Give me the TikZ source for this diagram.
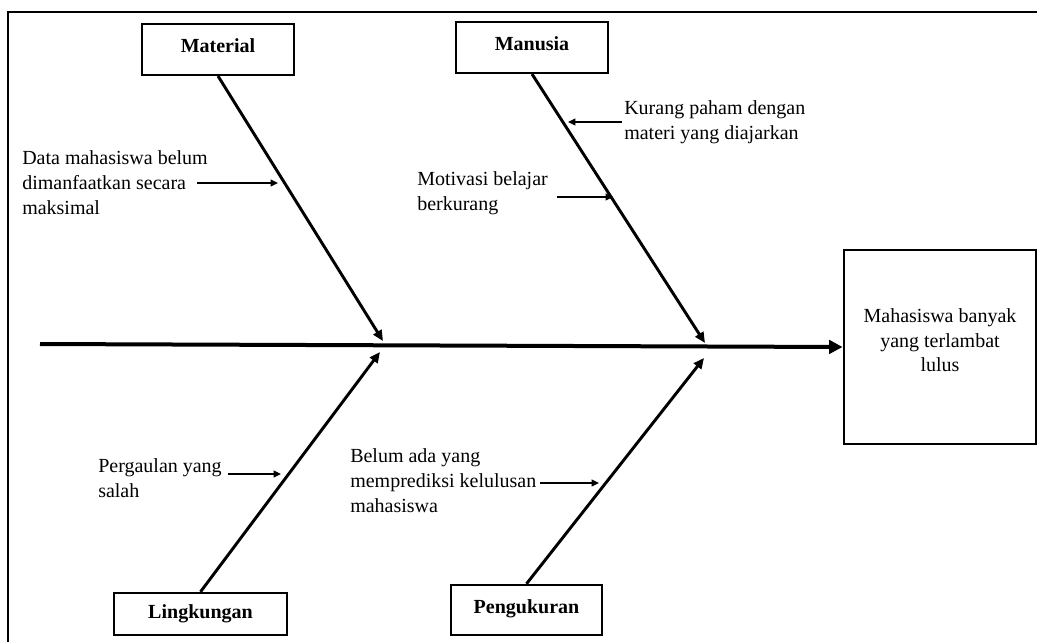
\documentclass[tikz,border=0pt]{standalone}
\usepackage{fontspec}
\setmainfont{Liberation Serif}
\usetikzlibrary{arrows.meta}

\begin{document}
\begin{tikzpicture}[x=0.75pt,y=-0.75pt,
        main/.style = {draw, line width=1.8pt, font=\fontsize{15}{18.5}\selectfont\bfseries, inner sep=0pt},
        sebab/.style = {align=left, inner sep=0pt, anchor=base west},
        tulang/.style = {line width=2.2pt, -{Triangle[length=8pt,width=7pt]}},
        panah/.style = {line width=1.5pt, -{Triangle[length=5.5pt,width=5pt]}},
        font=\fontsize{15}{18.5}\selectfont]
        \useasboundingbox (0,0) rectangle (1037,642);
        \draw[line width=0.8pt] (8,642) -- (8,12) -- (1037,12);
        % kategori
        \node[main, minimum width=114pt, minimum height=38pt, text depth=6pt] (mat) at (218,49.5) {Material};
        \node[main, minimum width=114pt, minimum height=38pt, text depth=6pt] (man) at (532,47.5) {Manusia};
        \node[main, minimum width=130pt, minimum height=31.5pt] (ling) at (200.5,614) {Lingkungan};
        \node[main, minimum width=113pt, minimum height=37.5pt, text depth=5pt] (peng) at (526.5,610) {Pengukuran};
        \node[draw, line width=2.2pt, minimum width=144pt, minimum height=145.5pt,
              label={[align=center, yshift=5pt]center:Mahasiswa banyak\\yang terlambat\\lulus}] (akibat) at (940,347) {};
        % tulang utama
        \coordinate (ekor) at (40,344);
        \coordinate (m1) at (383,341);
        \coordinate (m2) at (705,343);
        \coordinate (l1) at (380,352);
        \coordinate (p1) at (704,358);
        \draw[line width=3pt, -{Triangle[length=10pt,width=10pt]}] (ekor) -- (akibat.west);
        \draw[tulang] (mat.south) -- (m1);
        \draw[tulang] (man.south) -- (m2);
        \draw[tulang] (ling.north) -- (l1);
        \draw[tulang] (peng.north) -- (p1);
        % sebab
        \node[sebab] (dat) at (22,214) {Data mahasiswa belum\\dimanfaatkan secara\\maksimal};
        \node[sebab] (kur) at (624,139) {Kurang paham dengan\\materi yang diajarkan};
        \node[sebab] (mot) at (417,210) {Motivasi belajar\\berkurang};
        \node[sebab] (per) at (98,497) {Pergaulan yang\\salah};
        \node[sebab] (bel) at (350,512) {Belum ada yang\\memprediksi kelulusan\\mahasiswa};
        \coordinate (dat-a) at (197,183);
        \coordinate (dat-b) at (278,183);
        \coordinate (kur-a) at (622,122);
        \coordinate (kur-b) at (568,122);
        \coordinate (mot-a) at (557,197);
        \coordinate (mot-b) at (613,197);
        \coordinate (per-a) at (228,474);
        \coordinate (per-b) at (281,474);
        \coordinate (bel-a) at (540,483);
        \coordinate (bel-b) at (599,483);
        \draw[panah] (dat-a) -> (dat-b);
        \draw[panah] (kur-a) -> (kur-b);
        \draw[panah] (mot-a) -> (mot-b);
        \draw[panah] (per-a) -> (per-b);
        \draw[panah] (bel-a) -> (bel-b);
        %\draw[panah] (bel.east) -> (bel-b);
        \end{tikzpicture}
\end{document}
